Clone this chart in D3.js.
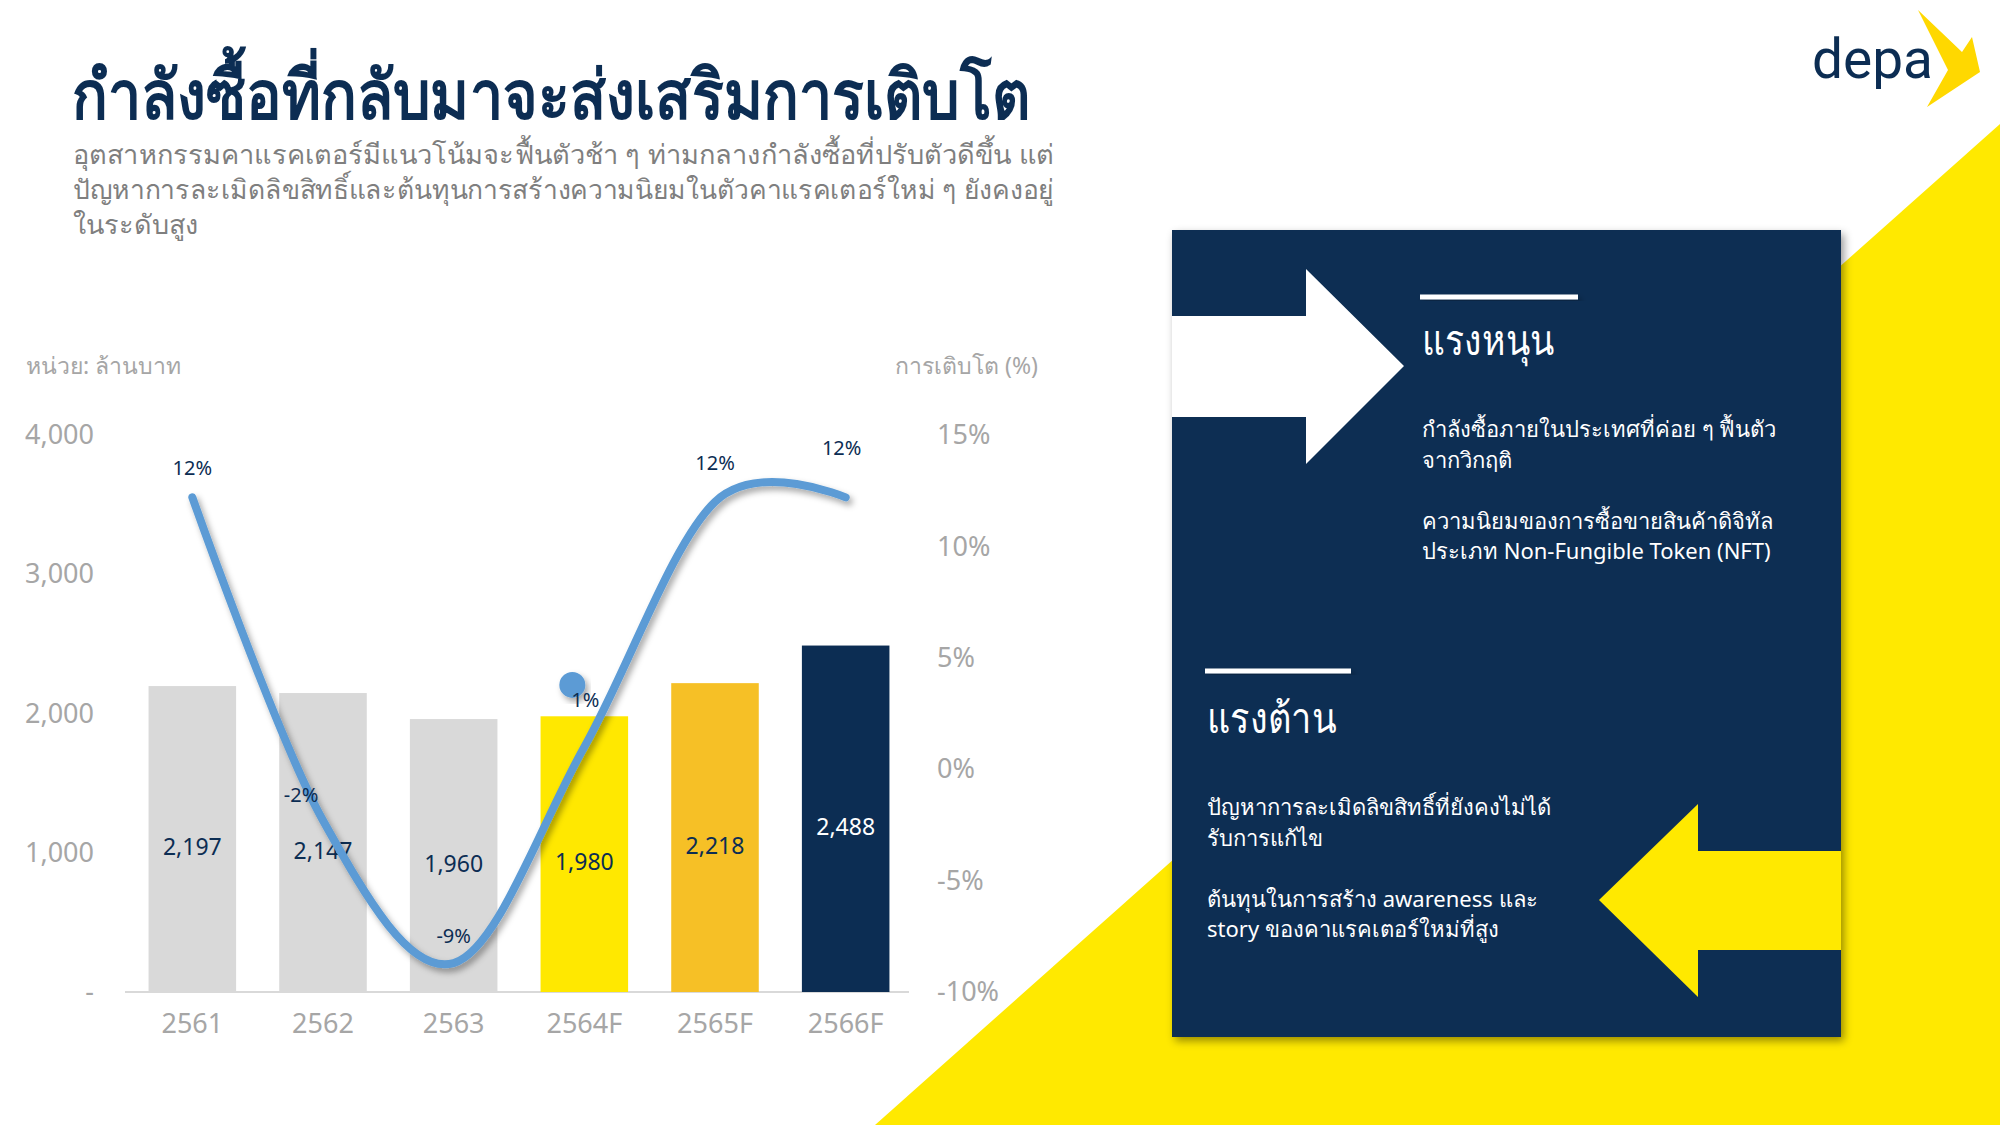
<!DOCTYPE html>
<html>
<head>
    <meta charset="utf-8">
    <title>กำลังซื้อที่กลับมาจะส่งเสริมการเติบโต</title>
    <script src="https://d3js.org/d3.v7.min.js"></script>
    <style>
        body { margin: 0; background: #fff; }
        svg { display: block; font-family: "Noto Sans", "Open Sans", sans-serif; }
    </style>
</head>
<body>
    <div id="chart"></div>
    <script>
        // data
        var years = ["2561", "2562", "2563", "2564F", "2565F", "2566F"];
        var values = [2197, 2147, 1960, 1980, 2218, 2488];
        var growth = [12.2, -2.3, -8.7, 1.0, 12.0, 12.2];
        var growthLabels = ["12%", "-2%", "-9%", "1%", "12%", "12%"];
        var leftTicks = [0, 1000, 2000, 3000, 4000];
        var rightTicks = [-10, -5, 0, 5, 10, 15];

        // styling / layout
        var barColors = ["#d9d9d9", "#d9d9d9", "#d9d9d9", "#ffe800", "#f6c026", "#0c2d53"];
        var valueColors = ["#0c2d53", "#0c2d53", "#0c2d53", "#0c2d53", "#0c2d53", "#ffffff"];
        var labelDx = [0, -22, 0, 1, 0, -4];
        var labelDy = [-29, -25, -27, -47, -39, -49];
        var navy = "#0c2d53";
        var yellow = "#ffe900";

        var width = 2000, height = 1125;

        var svg = d3.select("#chart")
            .append("svg")
            .attr("width", width)
            .attr("height", height);

        var defs = svg.append("defs");
        var shadow = defs.append("filter").attr("id", "shadow")
            .attr("x", "-20%").attr("y", "-20%").attr("width", "140%").attr("height", "140%");
        shadow.append("feDropShadow")
            .attr("dx", 3).attr("dy", 4).attr("stdDeviation", 3)
            .attr("flood-color", "#000").attr("flood-opacity", 0.35);
        var boxShadow = defs.append("filter").attr("id", "boxShadow")
            .attr("x", "-5%").attr("y", "-5%").attr("width", "110%").attr("height", "110%");
        boxShadow.append("feDropShadow")
            .attr("dx", 3).attr("dy", 4).attr("stdDeviation", 4)
            .attr("flood-color", "#000").attr("flood-opacity", 0.4);

        // yellow background triangle
        svg.append("path")
            .attr("d", "M875,1125 L2000,124 L2000,1125 Z")
            .attr("fill", yellow);

        // title + subtitle
        svg.append("text")
            .attr("x", 72).attr("y", 119)
            .attr("fill", navy)
            .attr("font-size", 68)
            .attr("font-weight", "bold")
            .attr("textLength", 958)
            .attr("lengthAdjust", "spacingAndGlyphs")
            .text("กำลังซื้อที่กลับมาจะส่งเสริมการเติบโต");

        var subLines = [
            "อุตสาหกรรมคาแรคเตอร์มีแนวโน้มจะฟื้นตัวช้า ๆ ท่ามกลางกำลังซื้อที่ปรับตัวดีขึ้น แต่",
            "ปัญหาการละเมิดลิขสิทธิ์และต้นทุนการสร้างความนิยมในตัวคาแรคเตอร์ใหม่ ๆ ยังคงอยู่",
            "ในระดับสูง"
        ];
        var subWidths = [981, 981, null];
        svg.append("g").selectAll("text")
            .data(subLines)
            .enter()
            .append("text")
            .attr("x", 73)
            .attr("y", function(d, i) { return 164 + i * 35; })
            .attr("fill", "#7f7f7f")
            .attr("font-size", 27)
            .attr("textLength", function(d, i) { return subWidths[i]; })
            .attr("lengthAdjust", "spacingAndGlyphs")
            .text(function(d) { return d; });

        // logo
        svg.append("text")
            .attr("x", 1812).attr("y", 78)
            .attr("fill", navy)
            .attr("font-size", 55)
            .attr("font-family", "Roboto, sans-serif")
            .text("depa");
        svg.append("path")
            .attr("d", "M1918,10 L1962,52 L1972,37 L1980,72 L1927,107 L1948,70 Z")
            .attr("fill", "#ffd800");

        // ---- chart ----
        var x = d3.scaleBand()
            .domain(years)
            .range([127, 911])
            .paddingInner(0.33)
            .paddingOuter(0.165);

        var yLeft = d3.scaleLinear().domain([0, 4000]).range([992, 435]);
        var yRight = d3.scaleLinear().domain([-10, 15]).range([992, 435]);

        var chart = svg.append("g");

        chart.append("text")
            .attr("x", 26).attr("y", 374)
            .attr("fill", "#a6a6a6")
            .attr("font-size", 23)
            .text("หน่วย: ล้านบาท");
        chart.append("text")
            .attr("x", 1038).attr("y", 374)
            .attr("text-anchor", "end")
            .attr("fill", "#a6a6a6")
            .attr("font-size", 23)
            .text("การเติบโต (%)");

        var leftAxis = chart.append("g")
            .attr("transform", "translate(100,0)")
            .call(d3.axisLeft(yLeft)
                .tickValues(leftTicks)
                .tickSize(0)
                .tickPadding(6)
                .tickFormat(function(d) { return d === 0 ? "-" : d3.format(",")(d); }));
        var rightAxis = chart.append("g")
            .attr("transform", "translate(930,0)")
            .call(d3.axisRight(yRight)
                .tickValues(rightTicks)
                .tickSize(0)
                .tickPadding(7)
                .tickFormat(function(d) { return d + "%"; }));
        var bottomAxis = chart.append("g")
            .attr("transform", "translate(0,992)")
            .call(d3.axisBottom(x).tickSize(0).tickPadding(22));

        [leftAxis, rightAxis, bottomAxis].forEach(function(a) {
            a.select(".domain").remove();
            a.selectAll("text")
                .attr("fill", "#a6a6a6")
                .attr("font-size", 27)
                .attr("font-family", "\"Noto Sans\", sans-serif");
        });

        chart.append("line")
            .attr("x1", 125).attr("x2", 909)
            .attr("y1", 992).attr("y2", 992)
            .attr("stroke", "#d9d9d9")
            .attr("stroke-width", 2);

        chart.selectAll("rect.bar")
            .data(values)
            .enter()
            .append("rect")
            .attr("class", "bar")
            .attr("x", function(d, i) { return x(years[i]); })
            .attr("y", function(d) { return yLeft(d); })
            .attr("width", x.bandwidth())
            .attr("height", function(d) { return yLeft(0) - yLeft(d); })
            .attr("fill", function(d, i) { return barColors[i]; });

        chart.selectAll("text.val")
            .data(values)
            .enter()
            .append("text")
            .attr("class", "val")
            .attr("x", function(d, i) { return x(years[i]) + x.bandwidth() / 2; })
            .attr("y", function(d) { return (yLeft(d) + yLeft(0)) / 2 + 8; })
            .attr("dy", "0.35em")
            .attr("text-anchor", "middle")
            .attr("fill", function(d, i) { return valueColors[i]; })
            .attr("font-size", 23)
            .text(function(d) { return d3.format(",")(d); });

        // growth line
        var line = d3.line()
            .x(function(d, i) { return x(years[i]) + x.bandwidth() / 2; })
            .y(function(d) { return yRight(d); })
            .curve(d3.curveCardinal.tension(0));

        chart.append("path")
            .datum(growth)
            .attr("d", line)
            .attr("fill", "none")
            .attr("stroke", "#5b9bd5")
            .attr("stroke-width", 8)
            .attr("stroke-linecap", "round")
            .attr("filter", "url(#shadow)");

        // stray marker next to the 1% label
        chart.append("circle")
            .attr("cx", x(years[3]) + x.bandwidth() / 2 - 12)
            .attr("cy", yRight(growth[3]) + labelDy[3] - 15)
            .attr("r", 13)
            .attr("fill", "#5b9bd5")
            .attr("filter", "url(#shadow)");

        chart.selectAll("text.growth")
            .data(growth)
            .enter()
            .append("text")
            .attr("class", "growth")
            .attr("x", function(d, i) { return x(years[i]) + x.bandwidth() / 2 + labelDx[i]; })
            .attr("y", function(d, i) { return yRight(d) + labelDy[i]; })
            .attr("dy", "0.35em")
            .attr("text-anchor", "middle")
            .attr("fill", navy)
            .attr("font-size", 20)
            .text(function(d, i) { return growthLabels[i]; });

        // ---- right panel ----
        var panel = svg.append("g");
        panel.append("rect")
            .attr("x", 1172).attr("y", 230)
            .attr("width", 669).attr("height", 807)
            .attr("fill", navy)
            .attr("filter", "url(#boxShadow)");

        panel.append("path")
            .attr("d", "M1172,316 L1306,316 L1306,269 L1404,366 L1306,464 L1306,417 L1172,417 Z")
            .attr("fill", "#ffffff");
        panel.append("path")
            .attr("d", "M1841,851 L1698,851 L1698,804 L1599,900 L1698,997 L1698,950 L1841,950 Z")
            .attr("fill", yellow);

        var blocks = [
            { x: 1420, lineY: 297, lineW: 158, title: "แรงหนุน", titleW: 133, titleY: 355,
              body: ["กำลังซื้อภายในประเทศที่ค่อย ๆ ฟื้นตัว", "จากวิกฤติ", "",
                     "ความนิยมของการซื้อขายสินค้าดิจิทัล", "ประเภท Non-Fungible Token (NFT)"], bodyY: 437 },
            { x: 1205, lineY: 671, lineW: 146, title: "แรงต้าน", titleW: 130, titleY: 733,
              body: ["ปัญหาการละเมิดลิขสิทธิ์ที่ยังคงไม่ได้", "รับการแก้ไข", "",
                     "ต้นทุนในการสร้าง awareness และ", "story ของคาแรคเตอร์ใหม่ที่สูง"], bodyY: 815 }
        ];
        blocks.forEach(function(b) {
            panel.append("rect")
                .attr("x", b.x).attr("y", b.lineY - 2.5)
                .attr("width", b.lineW).attr("height", 5)
                .attr("fill", "#ffffff")
                .attr("filter", "url(#shadow)");
            panel.append("text")
                .attr("x", b.x + 2).attr("y", b.titleY)
                .attr("fill", "#ffffff")
                .attr("font-size", 42)
                .attr("font-weight", 500)
                .attr("textLength", b.titleW)
                .attr("lengthAdjust", "spacingAndGlyphs")
                .text(b.title);
            panel.selectAll(null)
                .data(b.body)
                .enter()
                .append("text")
                .attr("x", b.x + 2)
                .attr("y", function(d, i) { return b.bodyY + i * 30.5; })
                .attr("fill", "#ffffff")
                .attr("font-size", 22)
                .text(function(d) { return d; });
        });
    </script>
</body>
</html>
